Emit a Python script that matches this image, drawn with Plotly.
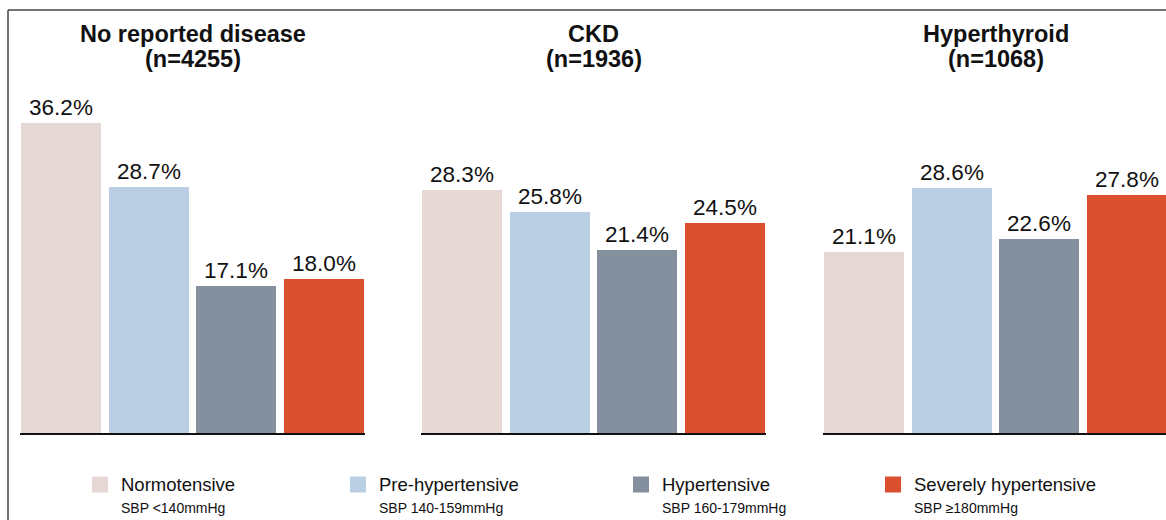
import plotly.graph_objects as go

W, H = 1166, 520

# ---- data ----
panel_titles = ["No reported disease", "CKD", "Hyperthyroid"]
panel_n = ["(n=4255)", "(n=1936)", "(n=1068)"]
categories = ["Normotensive", "Pre-hypertensive", "Hypertensive", "Severely hypertensive"]
category_sub = ["SBP <140mmHg", "SBP 140-159mmHg", "SBP 160-179mmHg", "SBP \u2265180mmHg"]
no_disease = [36.2, 28.7, 17.1, 18.0]
ckd = [28.3, 25.8, 21.4, 24.5]
hyperthyroid = [21.1, 28.6, 22.6, 27.8]
panel_values = [no_disease, ckd, hyperthyroid]
colors = ["#E6D9D5", "#BACEE4", "#85909F", "#DA502E"]

def px(x):
    return x / W

def py(y):
    return 1 - y / H

FONT = "Liberation Sans, Arial, Helvetica, sans-serif"

fig = go.Figure()

# panel pixel extents (left, right)
panels_px = [(20, 365), (421, 766), (823, 1166)]
ranges = [[-0.47, 3.47], [-0.47, 3.47], [-0.47, 3.45]]

for i, vals in enumerate(panel_values):
    xa = "x" if i == 0 else f"x{i+1}"
    ya = "y" if i == 0 else f"y{i+1}"
    fig.add_trace(go.Bar(
        x=list(range(len(categories))),
        y=vals,
        width=0.914,
        marker=dict(color=colors, line=dict(width=0)),
        text=[f"{v:.1f}%" for v in vals],
        textposition="outside",
        constraintext="none",
        textfont=dict(size=22.5, color="#111111", family=FONT),
        cliponaxis=False,
        xaxis=xa, yaxis=ya,
        hoverinfo="skip",
        showlegend=False,
    ))

layout = dict(
    width=W, height=H,
    margin=dict(l=0, r=0, t=0, b=0),
    paper_bgcolor="white", plot_bgcolor="white",
    font=dict(family=FONT, color="#111111"),
    bargap=0,
)
ydom = [(H - 433) / H, (H - 90) / H]
for i, (l, r) in enumerate(panels_px):
    suffix = "" if i == 0 else str(i + 1)
    layout["xaxis" + suffix] = dict(
        domain=[px(l), px(r)], range=ranges[i],
        showline=True, linecolor="#111111", linewidth=2,
        showticklabels=False, ticks="", showgrid=False, zeroline=False,
        anchor="y" + suffix, fixedrange=True,
    )
    layout["yaxis" + suffix] = dict(
        domain=ydom, range=[0, 40], visible=False,
        showgrid=False, zeroline=False, anchor="x" + suffix, fixedrange=True,
    )
fig.update_layout(**layout)

annotations = []
for i, (l, r) in enumerate(panels_px):
    cx = (l + r) / 2 if i < 2 else 995.5
    annotations.append(dict(
        x=px(cx), y=py(33.5), xref="paper", yref="paper",
        text=f"<b>{panel_titles[i]}</b>", showarrow=False,
        xanchor="center", yanchor="middle",
        font=dict(size=23.5, color="#111111", family=FONT),
    ))
    annotations.append(dict(
        x=px(cx), y=py(58.5), xref="paper", yref="paper",
        text=f"<b>{panel_n[i]}</b>", showarrow=False,
        xanchor="center", yanchor="middle",
        font=dict(size=23.5, color="#111111", family=FONT),
    ))

# legend
square_x = [92, 350, 633, 885]
shapes = []
for k, cat in enumerate(categories):
    sx = square_x[k]
    shapes.append(dict(
        type="rect", xref="paper", yref="paper",
        x0=px(sx), x1=px(sx + 16), y0=py(492.5), y1=py(476.5),
        fillcolor=colors[k], line=dict(width=0),
    ))
    annotations.append(dict(
        x=px(sx + 27), y=py(484), xref="paper", yref="paper",
        text=cat, showarrow=False, xanchor="left", yanchor="middle",
        font=dict(size=18.5, color="#111111", family=FONT),
    ))
    annotations.append(dict(
        x=px(sx + 27), y=py(507.5), xref="paper", yref="paper",
        text=category_sub[k], showarrow=False, xanchor="left", yanchor="middle",
        font=dict(size=14, color="#111111", family=FONT),
    ))

# frame lines
shapes.append(dict(type="line", xref="paper", yref="paper",
                   x0=px(8), x1=1.0, y0=py(10), y1=py(10),
                   line=dict(color="#444444", width=1.5)))
shapes.append(dict(type="line", xref="paper", yref="paper",
                   x0=px(8), x1=px(8), y0=py(10), y1=0,
                   line=dict(color="#444444", width=1.5)))

fig.update_layout(annotations=annotations, shapes=shapes)
fig.write_html(
    "out.html",
    config={"displayModeBar": False},
    post_script="document.body.style.margin='0';document.body.style.padding='0';document.body.style.overflow='hidden';",
)
